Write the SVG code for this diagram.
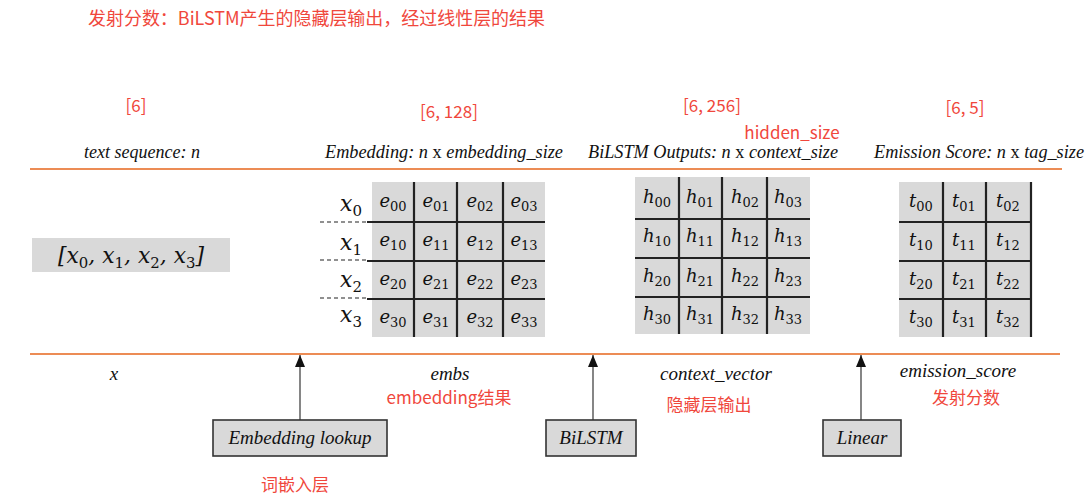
<svg xmlns="http://www.w3.org/2000/svg" width="1091" height="504" viewBox="0 0 1091 504">
<defs>
<marker id="ah2" markerWidth="10" markerHeight="12" refX="5" refY="0" markerUnits="userSpaceOnUse" viewBox="0 0 10 12">
<path d="M0,12 L5,0 L10,12 Z" fill="#111"/>
</marker>
</defs>
<style>
.red{font-family:"Noto Sans CJK SC","Noto Sans",sans-serif;fill:#f0473c;font-size:17px}
.it{font-family:"Liberation Serif",serif;font-style:italic;fill:#111;font-size:18px}
.m{font-family:"DejaVu Serif",serif;font-style:italic;fill:#111;font-size:18px;text-anchor:middle}
.sub{font-size:13px;font-style:normal}
.big{font-size:22px}
.big .sub{font-size:15px}
.orange{stroke:#ec8c55;stroke-width:2.2;fill:none}
.grey{fill:#d9d9d9}
.grid{stroke:#222;stroke-width:2.2;fill:none}
.box{fill:#d9d9d9;stroke:#333;stroke-width:1.6}
.conn{stroke:#444;stroke-width:1.3;fill:none}
.lbl{font-family:"Liberation Serif",serif;font-style:italic;fill:#111;font-size:19px;text-anchor:middle}
</style>
<rect width="1091" height="504" fill="#fff"/>

<text class="red" x="88" y="25" textLength="457" lengthAdjust="spacingAndGlyphs" style="font-size:18px">发射分数：BiLSTM产生的隐藏层输出，经过线性层的结果</text>

<g id="dims">
<text class="red" x="136" y="112" text-anchor="middle">[6]</text>
<text class="red" x="449" y="118" text-anchor="middle">[6, 128]</text>
<text class="red" x="712" y="112" text-anchor="middle">[6, 256]</text>
<text class="red" x="792" y="139" text-anchor="middle">hidden_size</text>
<text class="red" x="965" y="114" text-anchor="middle">[6, 5]</text>
</g>

<g id="headers">
<text class="it" x="142" y="158" text-anchor="middle">text sequence: n</text>
<text class="it" x="444" y="158" text-anchor="middle" textLength="238" lengthAdjust="spacingAndGlyphs">Embedding: n <tspan font-style="normal">x</tspan> embedding_size</text>
<text class="it" x="713" y="158" text-anchor="middle" textLength="250" lengthAdjust="spacingAndGlyphs">BiLSTM Outputs: n <tspan font-style="normal">x</tspan> context_size</text>
<text class="it" x="979" y="158" text-anchor="middle" textLength="210" lengthAdjust="spacingAndGlyphs">Emission Score: n <tspan font-style="normal">x</tspan> tag_size</text>
</g>

<g id="rails">
<line class="orange" x1="30" y1="169" x2="1062" y2="169"/>
<line class="orange" x1="30" y1="354" x2="1060" y2="354"/>
</g>

<g id="input-seq">
<rect class="grey" x="32" y="238" width="198" height="34"/>
<text class="m big" x="131" y="263" textLength="146" lengthAdjust="spacingAndGlyphs">[x<tspan class="sub" dy="5">0</tspan><tspan dy="-5">, x</tspan><tspan class="sub" dy="5">1</tspan><tspan dy="-5">, x</tspan><tspan class="sub" dy="5">2</tspan><tspan dy="-5">, x</tspan><tspan class="sub" dy="5">3</tspan><tspan dy="-5">]</tspan></text>
</g>

<g id="row-labels">
<text class="m big" x="351" y="211">x<tspan class="sub" dy="5">0</tspan></text>
<text class="m big" x="351" y="250">x<tspan class="sub" dy="5">1</tspan></text>
<text class="m big" x="351" y="287">x<tspan class="sub" dy="5">2</tspan></text>
<text class="m big" x="351" y="322">x<tspan class="sub" dy="5">3</tspan></text>
<g stroke="#222" stroke-width="1.2" stroke-dasharray="4,3">
<line x1="320" y1="222" x2="368" y2="222"/>
<line x1="320" y1="260" x2="368" y2="260"/>
<line x1="320" y1="298" x2="368" y2="298"/>
</g>
</g>

<g id="embedding-matrix">
<rect class="grey" x="372" y="182" width="173" height="155"/>
<path class="grid" d="M414,182V337M457,182V337M503,182V337M367,222H545M367,261H545M367,299H545"/>
<g class="m">
<text x="393" y="207">e<tspan class="sub" dy="4">00</tspan></text><text x="436" y="207">e<tspan class="sub" dy="4">01</tspan></text><text x="480" y="207">e<tspan class="sub" dy="4">02</tspan></text><text x="524" y="207">e<tspan class="sub" dy="4">03</tspan></text>
<text x="393" y="246">e<tspan class="sub" dy="4">10</tspan></text><text x="436" y="246">e<tspan class="sub" dy="4">11</tspan></text><text x="480" y="246">e<tspan class="sub" dy="4">12</tspan></text><text x="524" y="246">e<tspan class="sub" dy="4">13</tspan></text>
<text x="393" y="285">e<tspan class="sub" dy="4">20</tspan></text><text x="436" y="285">e<tspan class="sub" dy="4">21</tspan></text><text x="480" y="285">e<tspan class="sub" dy="4">22</tspan></text><text x="524" y="285">e<tspan class="sub" dy="4">23</tspan></text>
<text x="393" y="323">e<tspan class="sub" dy="4">30</tspan></text><text x="436" y="323">e<tspan class="sub" dy="4">31</tspan></text><text x="480" y="323">e<tspan class="sub" dy="4">32</tspan></text><text x="524" y="323">e<tspan class="sub" dy="4">33</tspan></text>
</g>
</g>

<g id="bilstm-matrix">
<rect class="grey" x="635" y="177" width="175" height="157"/>
<path class="grid" d="M679,177V334M722,177V334M767,177V334M635,219H810M635,258H810M635,297H810"/>
<g class="m">
<text x="657" y="203">h<tspan class="sub" dy="4">00</tspan></text><text x="700" y="203">h<tspan class="sub" dy="4">01</tspan></text><text x="745" y="203">h<tspan class="sub" dy="4">02</tspan></text><text x="788" y="203">h<tspan class="sub" dy="4">03</tspan></text>
<text x="657" y="242">h<tspan class="sub" dy="4">10</tspan></text><text x="700" y="242">h<tspan class="sub" dy="4">11</tspan></text><text x="745" y="242">h<tspan class="sub" dy="4">12</tspan></text><text x="788" y="242">h<tspan class="sub" dy="4">13</tspan></text>
<text x="657" y="282">h<tspan class="sub" dy="4">20</tspan></text><text x="700" y="282">h<tspan class="sub" dy="4">21</tspan></text><text x="745" y="282">h<tspan class="sub" dy="4">22</tspan></text><text x="788" y="282">h<tspan class="sub" dy="4">23</tspan></text>
<text x="657" y="320">h<tspan class="sub" dy="4">30</tspan></text><text x="700" y="320">h<tspan class="sub" dy="4">31</tspan></text><text x="745" y="320">h<tspan class="sub" dy="4">32</tspan></text><text x="788" y="320">h<tspan class="sub" dy="4">33</tspan></text>
</g>
</g>

<g id="emission-matrix">
<rect class="grey" x="899" y="182" width="133" height="155"/>
<path class="grid" d="M943,182V337M986,182V337M1031,182V337M899,222H1031M899,261H1031M899,299H1031"/>
<g class="m">
<text x="921" y="207">t<tspan class="sub" dy="4">00</tspan></text><text x="964" y="207">t<tspan class="sub" dy="4">01</tspan></text><text x="1008" y="207">t<tspan class="sub" dy="4">02</tspan></text>
<text x="921" y="246">t<tspan class="sub" dy="4">10</tspan></text><text x="964" y="246">t<tspan class="sub" dy="4">11</tspan></text><text x="1008" y="246">t<tspan class="sub" dy="4">12</tspan></text>
<text x="921" y="285">t<tspan class="sub" dy="4">20</tspan></text><text x="964" y="285">t<tspan class="sub" dy="4">21</tspan></text><text x="1008" y="285">t<tspan class="sub" dy="4">22</tspan></text>
<text x="921" y="323">t<tspan class="sub" dy="4">30</tspan></text><text x="964" y="323">t<tspan class="sub" dy="4">31</tspan></text><text x="1008" y="323">t<tspan class="sub" dy="4">32</tspan></text>
</g>
</g>

<g id="var-labels">
<text class="lbl" x="114" y="380">x</text>
<text class="lbl" x="450" y="380">embs</text>
<text class="lbl" x="716" y="380">context_vector</text>
<text class="lbl" x="958" y="377">emission_score</text>
<text class="red" x="449" y="404" text-anchor="middle">embedding结果</text>
<text class="red" x="709" y="411" text-anchor="middle">隐藏层输出</text>
<text class="red" x="966" y="404" text-anchor="middle">发射分数</text>
</g>

<g id="connectors">
<line class="conn" x1="300" y1="420" x2="300" y2="355" marker-end="url(#ah2)"/>
<line class="conn" x1="593" y1="420" x2="593" y2="355" marker-end="url(#ah2)"/>
<line class="conn" x1="861" y1="420" x2="861" y2="355" stroke="#999" marker-end="url(#ah2)"/>
</g>

<g id="node-embedding-lookup">
<rect class="box" x="213" y="420" width="174" height="36"/>
<text class="lbl" x="300" y="444">Embedding lookup</text>
</g>
<g id="node-bilstm">
<rect class="box" x="546" y="420" width="90" height="36"/>
<text class="lbl" x="591" y="444">BiLSTM</text>
</g>
<g id="node-linear">
<rect class="box" x="823" y="420" width="78" height="36"/>
<text class="lbl" x="862" y="444">Linear</text>
</g>

<text class="red" x="295" y="491" text-anchor="middle">词嵌入层</text>
</svg>
